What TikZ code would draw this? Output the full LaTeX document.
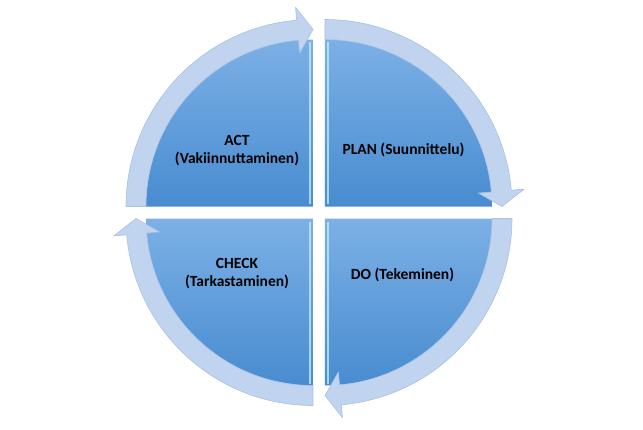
\documentclass[tikz,border=0pt]{standalone}
\usepackage{fontspec}
\setmainfont{Carlito}
\definecolor{quadtop}{RGB}{124,176,230}
\definecolor{quadmid}{RGB}{94,162,228}
\definecolor{quadbot}{RGB}{72,140,208}
\definecolor{ringfill}{RGB}{192,212,240}
\definecolor{ringedge}{RGB}{168,192,226}
\definecolor{bevel}{RGB}{190,235,250}
\begin{document}
\begin{tikzpicture}[x = 1pt, y = 1pt,
    quadrant/.style = {top color = quadtop, middle color = quadmid, bottom color = quadbot},
    ring/.style = {fill = ringfill, draw = ringedge, line width = 0.6pt, line join = round},
    glint/.style = {bevel, line width = 1.2pt, opacity = 0.8},
    label/.style = {align = center, font = \bfseries\fontsize{15.5}{18}\selectfont}]
    \useasboundingbox (-319,-216.5) rectangle (324,212.5);

    \shade[quadrant] (-6,6) -- (-173,6) arc[start angle = 180, end angle = 90, radius = 167] -- cycle;
    \shade[quadrant] (6,6) -- (6,173) arc[start angle = 90, end angle = 0, radius = 167] -- cycle;
    \shade[quadrant] (6,-6) -- (173,-6) arc[start angle = 0, end angle = -90, radius = 167] -- cycle;
    \shade[quadrant] (-6,-6) -- (-6,-173) arc[start angle = 270, end angle = 180, radius = 167] -- cycle;

    \draw[glint] (-9,9) -- (-9,171);
    \draw[glint] (9,9) -- (9,171);
    \draw[glint] (9,-9) -- (9,-171);
    \draw[glint] (-9,-9) -- (-9,-171);

    \draw[ring] (-193,6) arc[start angle = 180, end angle = 95, radius = 187]
        -- ([shift = {(-6,6)}]95:200) -- ([shift = {(-6,6)}]90:177) -- ([shift = {(-6,6)}]95:154)
        -- ([shift = {(-6,6)}]95:167) arc[start angle = 95, end angle = 180, radius = 167] -- cycle;
    \draw[ring, rotate = -90] (-193,6) arc[start angle = 180, end angle = 95, radius = 187]
        -- ([shift = {(-6,6)}]95:200) -- ([shift = {(-6,6)}]90:177) -- ([shift = {(-6,6)}]95:154)
        -- ([shift = {(-6,6)}]95:167) arc[start angle = 95, end angle = 180, radius = 167] -- cycle;
    \draw[ring, rotate = -180] (-193,6) arc[start angle = 180, end angle = 95, radius = 187]
        -- ([shift = {(-6,6)}]95:200) -- ([shift = {(-6,6)}]90:177) -- ([shift = {(-6,6)}]95:154)
        -- ([shift = {(-6,6)}]95:167) arc[start angle = 95, end angle = 180, radius = 167] -- cycle;
    \draw[ring, rotate = -270] (-193,6) arc[start angle = 180, end angle = 95, radius = 187]
        -- ([shift = {(-6,6)}]95:200) -- ([shift = {(-6,6)}]90:177) -- ([shift = {(-6,6)}]95:154)
        -- ([shift = {(-6,6)}]95:167) arc[start angle = 95, end angle = 180, radius = 167] -- cycle;

    \node[label] (act) at (-82,61.5) {ACT\\(Vakiinnuttaminen)};
    \node[label] (plan) at (84.5,62.5) {PLAN (Suunnittelu)};
    \node[label] (do) at (83.5,-62.5) {DO (Tekeminen)};
    \node[label] (check) at (-82,-61.5) {CHECK\\(Tarkastaminen)};
\end{tikzpicture}
\end{document}
